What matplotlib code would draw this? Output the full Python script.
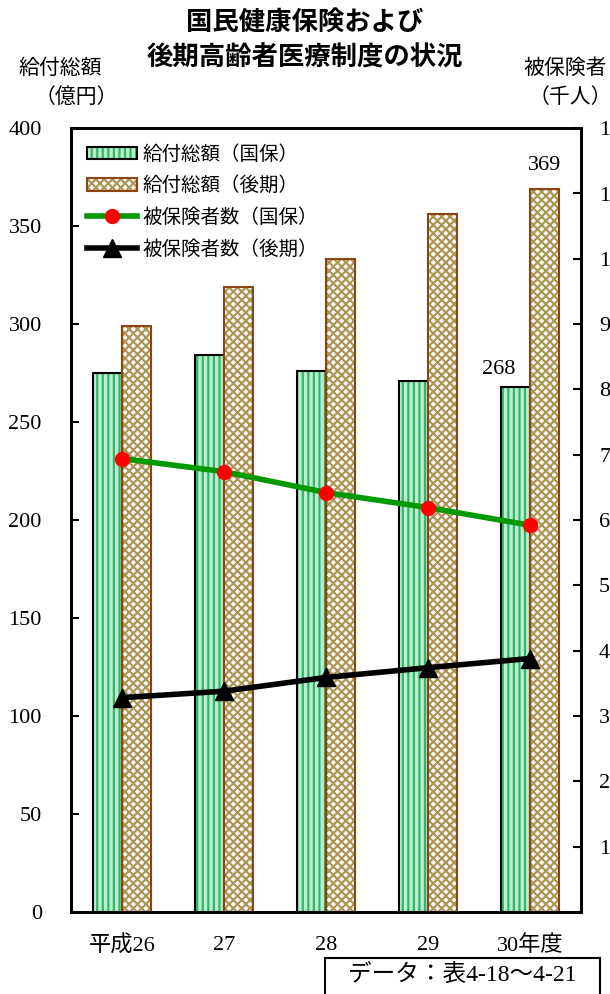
import matplotlib
matplotlib.use('Agg')
import matplotlib.pyplot as plt
from matplotlib.patches import Rectangle
from matplotlib.legend_handler import HandlerTuple
import numpy as np

# === DATA ===
years = ["平成26", "27", "28", "29", "30年度"]
kyufu_kokuho = [275, 284, 276, 271, 268]      # 給付総額（国保）億円
kyufu_kouki = [299, 319, 333, 356, 369]       # 給付総額（後期）億円
hihoken_kokuho = [694, 674, 642, 619, 592]    # 被保険者数（国保）千人
hihoken_kouki = [328, 338, 359, 374, 388]     # 被保険者数（後期）千人
left_ticks = [0, 50, 100, 150, 200, 250, 300, 350, 400]
right_ticks = [100, 200, 300, 400, 500, 600, 700, 800, 900, 1000, 1100, 1200]

JP = ['Noto Sans CJK JP', 'DejaVu Sans']
NUM = ['Liberation Serif', 'Noto Sans CJK JP']
plt.rcParams['font.family'] = JP
plt.rcParams['hatch.linewidth'] = 1.6

fig = plt.figure(figsize=(6.1, 9.94), dpi=100)
ax = fig.add_axes([71 / 610, 1 - 912 / 994, 510 / 610, 784 / 994])
ax2 = ax.twinx()

x = np.arange(len(years))
w = 0.28

# === BARS ===
b1 = ax.bar(x - w, kyufu_kokuho, w, align='edge', facecolor='#bdeccf',
            edgecolor='#2fb865', hatch='|||', linewidth=0, zorder=2)
b1o = ax.bar(x - w, kyufu_kokuho, w, align='edge', facecolor='none',
             edgecolor='black', linewidth=1.5, zorder=3)
b2 = ax.bar(x, kyufu_kouki, w, align='edge', facecolor='white',
            edgecolor='#ad9656', hatch='xxxx', linewidth=0, zorder=2)
b2o = ax.bar(x, kyufu_kouki, w, align='edge', facecolor='none',
             edgecolor='#8b4513', linewidth=1.5, zorder=3)

ax.text(x[-1] - w / 2 - 0.17, kyufu_kokuho[-1] + 4, str(kyufu_kokuho[-1]),
        ha='center', va='bottom', fontsize=16, family=NUM)
ax.text(x[-1] + w / 2, kyufu_kouki[-1] + 7, str(kyufu_kouki[-1]),
        ha='center', va='bottom', fontsize=16, family=NUM)

# === LINES ===
l1, = ax2.plot(x, hihoken_kokuho, color='#009900', linewidth=4,
               marker='o', markersize=10, markerfacecolor='red',
               markeredgecolor='red', zorder=5)
l2, = ax2.plot(x, hihoken_kouki, color='black', linewidth=4,
               marker='^', markersize=13, markerfacecolor='black',
               markeredgecolor='black', zorder=5)
ax2.set_zorder(ax.get_zorder() + 1)
ax2.patch.set_visible(False)

# === AXES ===
ax.set_xlim(-0.5, 4.5)
ax.set_ylim(0, 400)
ax2.set_ylim(0, 1200)
ax.set_xticks(x)
ax.set_xticklabels(years, fontsize=16, family=NUM)
ax.tick_params(axis='x', length=0, pad=17)
ax.set_yticks(left_ticks)
ax.set_yticklabels([str(t) for t in left_ticks], fontsize=16, family=NUM)
ax.tick_params(axis='y', direction='in', length=6, width=1.5, pad=21)
ax2.set_yticks(right_ticks)
ax2.set_yticklabels([f"{t:,}" for t in right_ticks], fontsize=16, family=NUM)
ax2.tick_params(axis='y', direction='in', length=6, width=1.5, pad=13)
for a in (ax, ax2):
    for s in a.spines.values():
        s.set_linewidth(2)

# === LEGEND ===
leg = ax.legend([(b1[0], b1o[0]), (b2[0], b2o[0]), l1, l2],
                ["給付総額（国保）", "給付総額（後期）", "被保険者数（国保）", "被保険者数（後期）"],
                handler_map={tuple: HandlerTuple(ndivide=1)},
                loc='upper left', bbox_to_anchor=(0.0, 1.0), frameon=False,
                fontsize=14, handlelength=2.6, handleheight=0.6,
                handletextpad=0.3, labelspacing=0.55, borderaxespad=0.4)
leg.set_zorder(10)

# === TEXTS ===
fig.text(0.5, 1 - 22 / 994, "国民健康保険および", ha='center', va='center',
         fontsize=19, fontweight='bold')
fig.text(0.5, 1 - 58 / 994, "後期高齢者医療制度の状況", ha='center', va='center',
         fontsize=19, fontweight='bold')
fig.text(60 / 610, 1 - 68 / 994, "給付総額", ha='center', va='center', fontsize=15)
fig.text(76 / 610, 1 - 97 / 994, "（億円）", ha='center', va='center', fontsize=15)
fig.text(565 / 610, 1 - 68 / 994, "被保険者", ha='center', va='center', fontsize=15)
fig.text(570 / 610, 1 - 97 / 994, "（千人）", ha='center', va='center', fontsize=15)

fig.patches.append(Rectangle((325 / 610, -0.01), 275 / 610, 0.01 + 36 / 994,
                             transform=fig.transFigure, facecolor='white',
                             edgecolor='black', linewidth=1.5))
fig.text(462 / 610, 1 - 976 / 994, "データ：表4-18～4-21", ha='center', va='center',
         fontsize=17, family=NUM)

fig.savefig('out.png', dpi=100)
